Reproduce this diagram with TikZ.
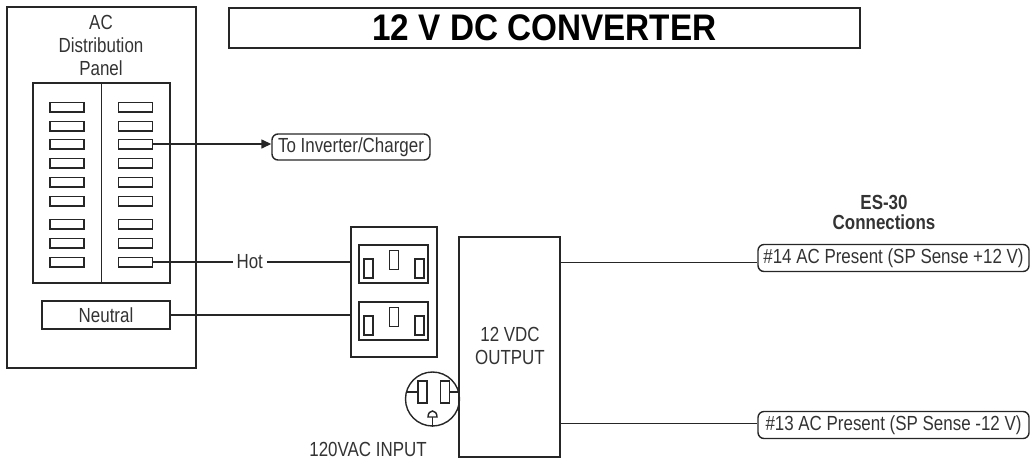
\documentclass[tikz,border=0pt]{standalone}
\usepackage{fontspec}
\setmainfont{Liberation Sans}[FakeStretch=0.83]
\newfontfamily\titlefont{Liberation Sans}[FakeStretch=0.9]
\usetikzlibrary{arrows.meta}
\begin{document}
\begin{tikzpicture}[x=0.5pt,y=-0.5pt,
  line/.style={draw=black!85, line width=0.7pt},
  lbl/.style={text=black!80, font=\fontsize{10.2pt}{11.5pt}\selectfont, inner sep=0pt},
  box/.style={line, rectangle, inner sep=0pt},
  breaker/.style={box, minimum width=17pt, minimum height=4.8pt},
  rbox/.style={line, rounded corners=3pt, lbl, inner sep=0pt, minimum height=13.5pt},
  slot/.style={box, minimum width=4.5pt, minimum height=9.5pt},
  pslot/.style={box, minimum width=4.5pt, minimum height=11pt}]
\useasboundingbox (0,0) rectangle (1032,462);

% title
\node[box, minimum width=315.5pt, minimum height=20pt, text=black,
      font=\titlefont\bfseries\fontsize{18.5pt}{20pt}\selectfont] (titlebox) at (544.5,28) {12 V DC CONVERTER};

% AC distribution panel
\node[box, minimum width=94.5pt, minimum height=180.5pt] (panel) at (101.5,187.5) {};
\node[lbl, align=center] (paneltxt) at (101,45) {AC\\Distribution\\Panel};
\node[box, minimum width=68.5pt, minimum height=100pt] (brk) at (101.5,183) {};
\draw[line] (brk.north) -- (brk.south);
\foreach \i/\y in {1/107,2/126,3/144,4/163,5/182,6/201,7/224,8/243,9/262}{
  \node[breaker] (bl\i) at (67,\y) {};
  \node[breaker] (br\i) at (135.5,\y) {};
}
\node[box, lbl, minimum width=64pt, minimum height=14pt] (neutral) at (106,315) {Neutral};

% to inverter
\node[rbox, minimum width=79pt, minimum height=13pt] (inv) at (351,147) {To Inverter/Charger};
\draw[line, -{Triangle[length=5pt,width=4.5pt]}] (br3.east) -- (br3.east -| inv.west);

% outlet box
\node[box, minimum width=43pt, minimum height=65pt] (outlet) at (394,292) {};
\node[box, minimum width=34.5pt, minimum height=19pt] (rec1) at (393.5,264) {};
\node[box, minimum width=34.5pt, minimum height=19pt] (rec2) at (393.5,321) {};
\node[slot] (r1a) at (368.5,268.5) {};
\node[slot] (r1b) at (394,260) {};
\node[slot] (r1c) at (419.5,268.5) {};
\node[slot] (r2a) at (368.5,325.5) {};
\node[slot] (r2b) at (394,317) {};
\node[slot] (r2c) at (419.5,325.5) {};

% hot and neutral
\draw[line] (br9.east) -- node[lbl, fill=white, inner xsep=2pt, pos=0.49] (hot) {Hot} (br9.east -| outlet.west);
\draw[line] (neutral.east) -- (neutral.east -| outlet.west);

% converter
\node[box, minimum width=50.5pt, minimum height=110pt] (conv) at (509.5,347) {};
\node[lbl, align=center] (convtxt) at (510,346) {12 VDC\\OUTPUT};

% plug
\node[line, circle, inner sep=0pt, minimum size=27pt] (plug) at (432.5,399) {};
\node[pslot] (ps1) at (422.5,392) {};
\node[pslot] (ps2) at (445,392) {};
\draw[line] (plug.165) -- (plug.165 -| ps1.west);
\draw[line] (ps2.east) -- (ps2.east -| plug.15);
\draw[line] (428,417) .. controls (428,409) and (437,409) .. (437,417) -- cycle;
\draw[line] (432.5,417) -- (plug.south);
\node[lbl] (acin) at (368,449) {120VAC INPUT};

% ES-30 connections
\node[lbl, font=\fontsize{10.2pt}{10pt}\selectfont\bfseries, align=center] (es) at (884,212) {ES-30\\Connections};
\node[rbox, minimum width=135.5pt] (b14) at (893.5,258) {\#14 AC Present (SP Sense +12 V)};
\node[rbox, minimum width=135.5pt] (b13) at (893.5,425) {\#13 AC Present (SP Sense -12 V)};
\path (conv.north east) ++(0,26) coordinate (o14);
\path (conv.north east) ++(0,187) coordinate (o13);
\draw[line] (o14) -- (o14 -| b14.west);
\draw[line] (o13) -- (o13 -| b13.west);
\end{tikzpicture}
\end{document}
